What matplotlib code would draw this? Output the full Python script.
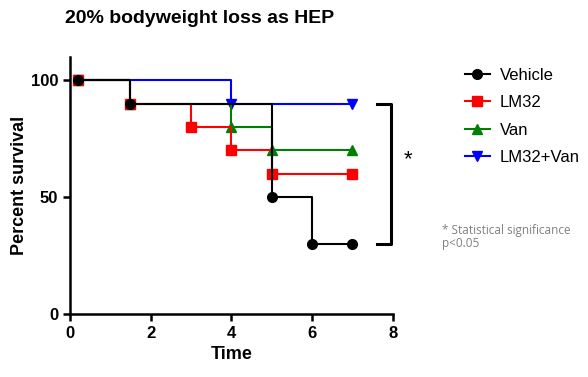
import matplotlib.pyplot as plt

plt.rcParams['font.family'] = ['Liberation Sans', 'DejaVu Sans']

# survival curves (time, percent survival)
vehicle_t = [0.2, 1.5, 5, 6, 7]
vehicle_s = [100, 90, 50, 30, 30]
lm32_t = [0.2, 1.5, 3, 4, 5, 7]
lm32_s = [100, 90, 80, 70, 60, 60]
van_t = [0.2, 1.5, 4, 5, 7]
van_s = [100, 90, 80, 70, 70]
combo_t = [0.2, 4, 7]
combo_s = [100, 90, 90]

series = [
    ('LM32+Van', combo_t, combo_s, 'blue', 'v'),
    ('Van', van_t, van_s, 'green', '^'),
    ('LM32', lm32_t, lm32_s, 'red', 's'),
    ('Vehicle', vehicle_t, vehicle_s, 'black', 'o'),
]

fig = plt.figure(figsize=(5.88, 3.77), dpi=100)
ax = fig.add_axes([0.119, 0.167, 0.549, 0.682])

handles = {}
for name, t, s, col, mk in series:
    ax.step(t, s, where='post', color=col, lw=1.5)
    ax.plot(t, s, ls='none', marker=mk, color=col, ms=7)
    lh, = ax.plot([], [], color=col, marker=mk, ms=7, lw=1.5)
    handles[name] = lh

ax.set_xlim(0, 8)
ax.set_ylim(0, 110)
ax.set_xticks([0, 2, 4, 6, 8])
ax.set_yticks([0, 50, 100])
for sp in ['top', 'right']:
    ax.spines[sp].set_visible(False)
for sp in ['left', 'bottom']:
    ax.spines[sp].set_linewidth(1.8)
ax.tick_params(width=1.8, length=5, labelsize=12)
for lab in ax.get_xticklabels() + ax.get_yticklabels():
    lab.set_fontweight('bold')
ax.set_xlabel('Time', fontsize=13, fontweight='bold')
ax.set_ylabel('Percent survival', fontsize=13, fontweight='bold', labelpad=2)
fig.text(0.34, 0.95, '20% bodyweight loss as HEP', fontsize=14, fontweight='bold',
         ha='center', va='center')

# significance bracket
ax.plot([7.6, 7.95, 7.95, 7.6], [90, 90, 30, 30], color='black', lw=2.2, clip_on=False)
ax.text(8.37, 66, '*', fontsize=16, ha='center', va='center')

order = ['Vehicle', 'LM32', 'Van', 'LM32+Van']
fig.legend([handles[n] for n in order], order, loc='upper left',
           bbox_to_anchor=(0.765, 0.86), frameon=False, fontsize=12,
           handlelength=1.5, handletextpad=0.6, labelspacing=0.75)

fig.text(0.752, 0.405, '* Statistical significance\np<0.05', color='gray',
         fontsize=8.5, family=['Open Sans', 'DejaVu Sans'], va='top', linespacing=0.95)

plt.savefig('out.png', dpi=100)
